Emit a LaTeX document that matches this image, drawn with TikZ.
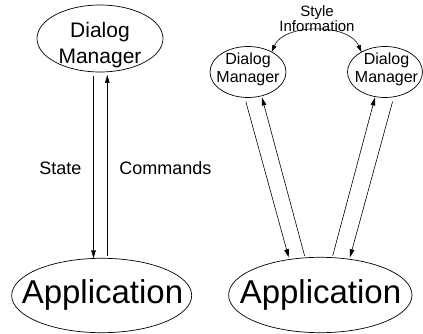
\documentclass[tikz,border=0pt]{standalone}
\usepackage{fontspec}
\setmainfont{Liberation Sans}
\usetikzlibrary{arrows.meta,shapes.geometric}

\tikzset{
  oval/.style={draw, ellipse, inner sep=0pt, outer sep=0pt, line width=0.7pt},
  lbl/.style={inner sep=0pt, outer sep=0pt, align=center},
  arr/.style={-{Triangle[length=8pt,width=4.6pt]}, line width=0.6pt},
  twoarr/.style={{Triangle[length=7pt,width=4.2pt]}-{Triangle[length=7pt,width=4.2pt]}, line width=0.6pt},
}

\begin{document}
\begin{tikzpicture}[x=1pt, y=-1pt]
  \useasboundingbox (0,0) rectangle (423,334);

  % ---- single dialog manager ----
  \node[oval, minimum width=126pt, minimum height=67pt] (dm) at (100,38.5) {};
  \node[lbl, font=\fontsize{21}{26}\selectfont] (dmtxt) at (100,44.9) {Dialog\\Manager};

  \node[oval, minimum width=180pt, minimum height=74.4pt] (appL) at (101.7,295.5) {};
  \node[lbl, font=\fontsize{33}{40}\selectfont] (appLtxt) at (102.5,294.7) {Application};

  \draw[arr, shorten <=4pt] ([xshift=-6.5pt]dm.south) -- ([xshift=-8.2pt]appL.north);
  \draw[arr, shorten <=2.5pt, shorten >=3pt] ([xshift=5.6pt]appL.north) -- ([xshift=7.3pt]dm.south);

  \node[lbl, anchor=base, font=\fontsize{18}{22}\selectfont] (state) at (60.4,175) {State};
  \node[lbl, anchor=base, font=\fontsize{18}{22}\selectfont] (cmds) at (165.4,175) {Commands};

  % ---- two dialog managers sharing one application ----
  \node[oval, minimum width=76pt, minimum height=51pt] (dmA) at (248,72) {};
  \node[lbl, font=\fontsize{16}{17.7}\selectfont] (dmAtxt) at (248,69.7) {Dialog\\Manager};

  \node[oval, minimum width=75pt, minimum height=51pt] (dmB) at (385,72) {};
  \node[lbl, font=\fontsize{16}{17.7}\selectfont] (dmBtxt) at (386.5,69.7) {Dialog\\Manager};

  \node[oval, minimum width=183.4pt, minimum height=75.4pt] (appR) at (320.3,295) {};
  \node[lbl, font=\fontsize{33}{40}\selectfont] (appRtxt) at (320.5,294.7) {Application};

  \draw[arr, shorten <=4.3pt] ([xshift=-3.3pt]dmA.south) -- ([xshift=-31.6pt]appR.north);
  \draw[arr, shorten <=1.6pt] ([xshift=-15.3pt]appR.north) -- ([xshift=14pt]dmA.south);
  \draw[arr, shorten <=1.6pt] ([xshift=12pt]appR.north) -- ([xshift=-10pt]dmB.south);
  \draw[arr, shorten <=4.3pt] ([xshift=8.7pt]dmB.south) -- ([xshift=29.7pt]appR.north);

  \draw[twoarr] (dmA.40) .. controls +(12,-29) and +(-12,-29) .. (dmB.140);
  \node[lbl, font=\fontsize{15}{15}\selectfont] (style) at (317,18.7) {Style\\Information};
\end{tikzpicture}
\end{document}
